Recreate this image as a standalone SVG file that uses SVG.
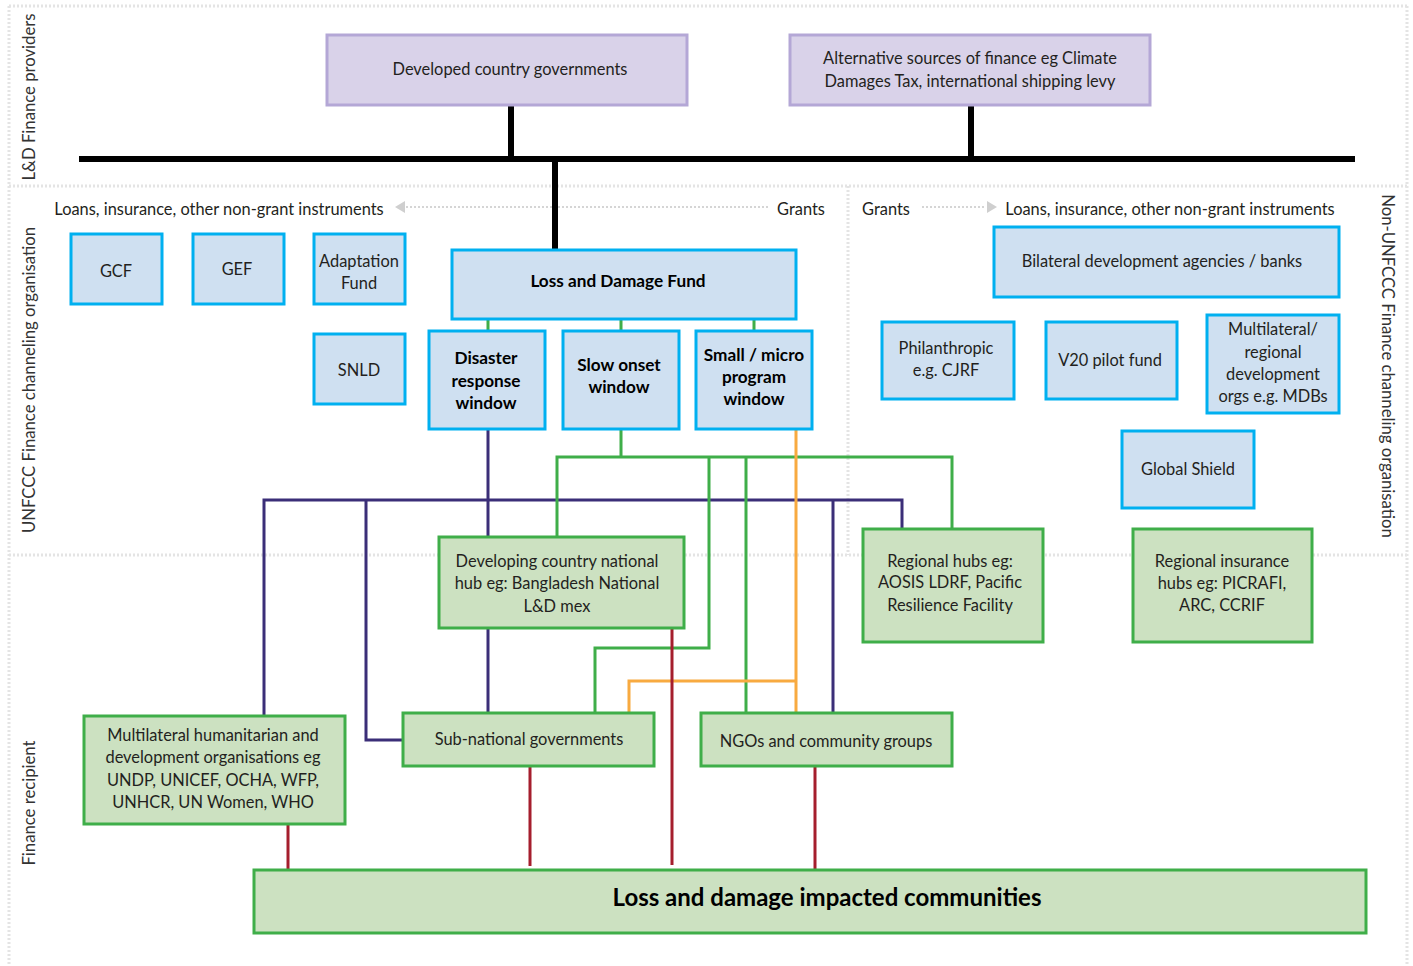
<svg xmlns="http://www.w3.org/2000/svg" width="1413" height="966" viewBox="0 0 1413 966">
<style>
text{font-family:Lato,"Noto Sans","Liberation Sans",sans-serif;font-size:16.4px;fill:#231f20;text-anchor:middle;dominant-baseline:central}
.b{font-weight:bold;fill:#000;font-size:17.2px}
.side{font-size:16.7px;fill:#333}
.sep{stroke:#e4e4e4;stroke-width:3;stroke-dasharray:2 2;fill:none}
.purple{fill:#d9d2e9;stroke:#b4a7d6;stroke-width:3}
.blue{fill:#cfe0f1;stroke:#00b0f0;stroke-width:3}
.green{fill:#cce1c1;stroke:#3fae49;stroke-width:3}
.k{stroke:#000;stroke-width:6;fill:none}
.pu{stroke:#3b2e78;stroke-width:3;fill:none}
.gr{stroke:#3fae49;stroke-width:3;fill:none}
.or{stroke:#f8aa40;stroke-width:3;fill:none}
.rd{stroke:#a51e2d;stroke-width:3;fill:none}
.dot{stroke:#c8c8c8;stroke-width:1.5;stroke-dasharray:2 2;fill:none}
</style>
<rect width="1413" height="966" fill="#fff"/>
<g id="separators">
<path class="sep" d="M9 6H1407M9 6V966M1407 6V966M9 186H1407M9 555H1407M848 186V555"/>
</g>
<g id="side-labels">
<text class="side" transform="translate(29,97) rotate(-90)">L&amp;D Finance providers</text>
<text class="side" transform="translate(29,380) rotate(-90)">UNFCCC Finance channeling organisation</text>
<text class="side" transform="translate(29,803) rotate(-90)">Finance recipient</text>
<text class="side" transform="translate(1388,366) rotate(90)">Non-UNFCCC Finance channeling organisation</text>
</g>
<g id="instrument-labels">
<text x="219" y="208">Loans, insurance, other non-grant instruments</text>
<path class="dot" d="M406 207H768"/>
<polygon points="395,207 405,201 405,213" fill="#cfcfcf"/>
<text x="801" y="208">Grants</text>
<text x="886" y="208">Grants</text>
<path class="dot" d="M922 207H986"/>
<polygon points="997,207 987,201 987,213" fill="#cfcfcf"/>
<text x="1170" y="208">Loans, insurance, other non-grant instruments</text>
</g>
<g id="connectors">
<path class="k" d="M79 159H1355M511 105V159M971 105V159M555 159V250"/>
<path class="gr" d="M488 319V331M621 319V331M754 319V331"/>
<path class="pu" d="M488 429V537M264 716V500H902V529M366 500V740H403M833 500V713M488 628V713"/>
<path class="gr" d="M621 429V457M557 537V457H952V529M709 457V648H595V713M746 457V713"/>
<path class="or" d="M796 429V713M629 713V681H796"/>
<path class="rd" d="M288 824V870M530 766V866M672 628V865M815 766V870"/>
</g>
<g id="developed-country-governments">
<rect class="purple" x="327" y="35" width="360" height="70"/>
<text x="510" y="68">Developed country governments</text>
</g>
<g id="alternative-sources">
<rect class="purple" x="790" y="35" width="360" height="70"/>
<text x="970" y="57">Alternative sources of finance eg Climate</text>
<text x="970" y="80">Damages Tax, international shipping levy</text>
</g>
<g id="gcf">
<rect class="blue" x="71" y="234" width="91" height="70"/>
<text x="116" y="270">GCF</text>
</g>
<g id="gef">
<rect class="blue" x="193" y="234" width="91" height="70"/>
<text x="237" y="268">GEF</text>
</g>
<g id="adaptation-fund">
<rect class="blue" x="314" y="234" width="91" height="70"/>
<text x="359" y="260">Adaptation</text>
<text x="359" y="282">Fund</text>
</g>
<g id="snld">
<rect class="blue" x="314" y="334" width="91" height="70"/>
<text x="359" y="369">SNLD</text>
</g>
<g id="loss-and-damage-fund">
<rect class="blue" x="452" y="250" width="344" height="69"/>
<text class="b" x="618" y="280">Loss and Damage Fund</text>
</g>
<g id="disaster-response-window">
<rect class="blue" x="429" y="331" width="116" height="98"/>
<text class="b" x="486" y="357">Disaster</text>
<text class="b" x="486" y="380">response</text>
<text class="b" x="486" y="402">window</text>
</g>
<g id="slow-onset-window">
<rect class="blue" x="563" y="331" width="116" height="98"/>
<text class="b" x="619" y="364">Slow onset</text>
<text class="b" x="619" y="386">window</text>
</g>
<g id="small-micro-window">
<rect class="blue" x="696" y="331" width="116" height="98"/>
<text class="b" x="754" y="354">Small / micro</text>
<text class="b" x="754" y="376">program</text>
<text class="b" x="754" y="398">window</text>
</g>
<g id="bilateral">
<rect class="blue" x="994" y="227" width="345" height="70"/>
<text x="1162" y="260">Bilateral development agencies / banks</text>
</g>
<g id="philanthropic">
<rect class="blue" x="882" y="322" width="132" height="77"/>
<text x="946" y="347">Philanthropic</text>
<text x="946" y="369">e.g. CJRF</text>
</g>
<g id="v20">
<rect class="blue" x="1046" y="322" width="131" height="77"/>
<text x="1110" y="359">V20 pilot fund</text>
</g>
<g id="multilateral-regional">
<rect class="blue" x="1207" y="315" width="132" height="98"/>
<text x="1273" y="328">Multilateral/</text>
<text x="1273" y="351">regional</text>
<text x="1273" y="373">development</text>
<text x="1273" y="395">orgs e.g. MDBs</text>
</g>
<g id="global-shield">
<rect class="blue" x="1122" y="431" width="132" height="77"/>
<text x="1188" y="468">Global Shield</text>
</g>
<g id="national-hub">
<rect class="green" x="439" y="537" width="245" height="91"/>
<text x="557" y="560">Developing country national</text>
<text x="557" y="582">hub eg: Bangladesh National</text>
<text x="557" y="605">L&amp;D mex</text>
</g>
<g id="regional-hubs">
<rect class="green" x="863" y="529" width="180" height="113"/>
<text x="950" y="560">Regional hubs eg:</text>
<text x="950" y="581">AOSIS LDRF, Pacific</text>
<text x="950" y="604">Resilience Facility</text>
</g>
<g id="regional-insurance-hubs">
<rect class="green" x="1133" y="529" width="179" height="113"/>
<text x="1222" y="560">Regional insurance</text>
<text x="1222" y="582">hubs eg: PICRAFI,</text>
<text x="1222" y="604">ARC, CCRIF</text>
</g>
<g id="multilateral-humanitarian">
<rect class="green" x="84" y="716" width="261" height="108"/>
<text x="213" y="734">Multilateral humanitarian and</text>
<text x="213" y="756">development organisations eg</text>
<text x="213" y="779">UNDP, UNICEF, OCHA, WFP,</text>
<text x="213" y="801">UNHCR, UN Women, WHO</text>
</g>
<g id="sub-national-governments">
<rect class="green" x="403" y="713" width="251" height="53"/>
<text x="529" y="738">Sub-national governments</text>
</g>
<g id="ngos">
<rect class="green" x="701" y="713" width="251" height="53"/>
<text x="826" y="740">NGOs and community groups</text>
</g>
<g id="impacted-communities">
<rect class="green" x="254" y="870" width="1112" height="63"/>
<text class="b" x="827" y="896" style="font-size:24px">Loss and damage impacted communities</text>
</g>
</svg>
